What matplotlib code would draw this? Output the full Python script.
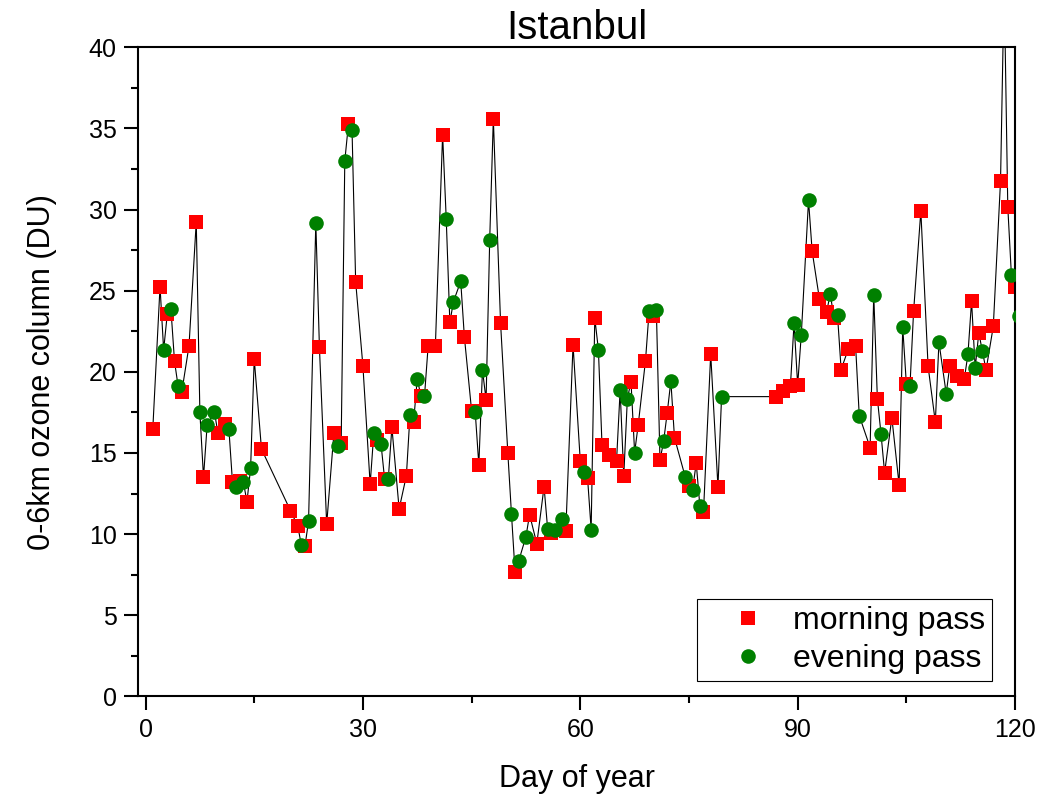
import matplotlib
matplotlib.use("Agg")
import matplotlib.pyplot as plt
from matplotlib.ticker import MultipleLocator

plt.rcParams["font.family"] = ["Liberation Sans", "DejaVu Sans"]

# morning pass (red squares)
morning_days = [1, 2, 3, 4, 5, 6, 7, 8, 10, 11, 12, 13, 14, 15, 16,
                20, 21, 22, 24, 25, 26, 27, 28, 29, 30, 31, 32, 33, 34, 35,
                36, 37, 38, 39, 40, 41, 42, 44, 45, 46, 47, 48, 49, 50, 51,
                53, 54, 55, 56, 58, 59, 60, 61, 62, 63, 64, 65, 66, 67, 68,
                69, 70, 71, 72, 73, 75, 76, 77, 78, 79,
                87, 88, 89, 90, 92, 93, 94, 95, 96, 97, 98, 100, 101, 102,
                103, 104, 105, 106, 107, 108, 109, 111, 112, 113, 114, 115,
                116, 117, 118, 119, 120, 121]
morning_vals = [16.46, 25.25, 23.55, 20.65, 18.75, 21.6, 29.25, 13.5, 16.2, 16.8,
                13.2, 13.3, 12.0, 20.8, 15.24,
                11.45, 10.5, 9.25, 21.5, 10.6, 16.25, 15.6, 35.25, 25.55, 20.36,
                13.07, 15.8, 13.37, 16.58, 11.55,
                13.6, 16.93, 18.5, 21.57, 21.57, 34.62, 23.05, 22.17, 17.6, 14.26,
                18.28, 35.6, 22.99, 15.0, 7.66,
                11.2, 9.41, 12.92, 10.05, 10.19, 21.67, 14.5, 13.48, 23.32, 15.47,
                14.85, 14.48, 13.58, 19.4, 16.75,
                20.69, 23.44, 14.55, 17.48, 15.94, 12.94, 14.38, 11.34, 21.1, 12.9,
                18.47, 18.8, 19.13, 19.2, 27.43, 24.5, 23.69, 23.32, 20.14, 21.42,
                21.57, 15.33, 18.35, 13.78,
                17.17, 13.04, 19.27, 23.73, 29.91, 20.34, 16.9, 20.37, 19.74, 19.56,
                24.35, 22.4,
                20.11, 22.8, 31.78, 30.14, 25.2, 21.45]

# evening pass (green circles)
evening_days = [2.5, 3.5, 4.5, 7.5, 8.5, 9.5, 11.5, 12.5, 13.5, 14.5,
                21.5, 22.5, 23.5, 26.5, 27.5, 28.5, 31.5, 32.5, 33.5, 36.5,
                37.5, 38.5, 41.5, 42.5, 43.5, 45.5, 46.5, 47.5, 50.5, 51.5,
                52.5, 55.5, 56.5, 57.5, 60.5, 61.5, 62.5, 65.5, 66.5, 67.5,
                69.5, 70.5, 71.5, 72.5, 74.5, 75.5, 76.5, 79.5,
                89.5, 90.5, 91.5, 94.5, 95.5, 98.5, 100.5, 101.5, 104.5, 105.5,
                109.5, 110.5, 113.5, 114.5, 115.5, 118.5, 119.5, 120.5]
evening_vals = [21.35, 23.9, 19.1, 17.5, 16.7, 17.55, 16.5, 12.9, 13.2, 14.05,
                9.35, 10.8, 29.2, 15.45, 33.0, 34.9, 16.2, 15.55, 13.37, 17.36,
                19.58, 18.5, 29.42, 24.33, 25.58, 17.52, 20.1, 28.15, 11.26, 8.34,
                9.84, 10.3, 10.27, 10.9, 13.8, 10.28, 21.37, 18.86, 18.35, 15.02,
                23.75, 23.81, 15.72, 19.43, 13.5, 12.74, 11.75, 18.47,
                23.0, 22.27, 30.57, 24.82, 23.48, 17.3, 24.76, 16.19, 22.74, 19.13,
                21.82, 18.66, 21.08, 20.24, 21.26, 44.0, 25.95, 23.46]

# one line through both passes in time order
all_points = sorted(zip(morning_days + evening_days, morning_vals + evening_vals))
line_days = [p[0] for p in all_points]
line_vals = [p[1] for p in all_points]

fig = plt.figure(figsize=(10.5, 7.97), dpi=100)
ax = fig.add_axes([0.1317, 0.1263, 0.8350, 0.8144])

ax.plot(line_days, line_vals, color="black", linewidth=0.8, zorder=1)
ax.plot(morning_days, morning_vals, linestyle="none", marker="s", markersize=9.4,
        markeredgewidth=0, color="#ff0000", label="morning pass", zorder=2)
ax.plot(evening_days, evening_vals, linestyle="none", marker="o", markersize=10.5,
        markeredgewidth=0, color="#008000", label="evening pass", zorder=3)

ax.set_xlim(-1, 120)
ax.set_ylim(0, 40)
ax.xaxis.set_major_locator(MultipleLocator(30))
ax.xaxis.set_minor_locator(MultipleLocator(15))
ax.yaxis.set_major_locator(MultipleLocator(5))
ax.yaxis.set_minor_locator(MultipleLocator(2.5))
ax.tick_params(which="major", direction="out", length=10, width=1.5,
               labelsize=18, pad=5.5)
ax.tick_params(which="minor", direction="out", length=5, width=1.5)
for s in ax.spines.values():
    s.set_linewidth(1.5)

ax.set_xlabel("Day of year", fontsize=22, labelpad=16)
ax.set_ylabel("0-6km ozone column (DU)", fontsize=22, labelpad=23)
ax.set_title("Istanbul", fontsize=29, pad=4.3)

leg = ax.legend(loc="lower right", bbox_to_anchor=(0.9734, 0.024), borderaxespad=0,
                fontsize=23, handlelength=2.75, handletextpad=0.05, borderpad=0.2,
                labelspacing=0.27, fancybox=False, framealpha=1, numpoints=1)
leg.get_frame().set_edgecolor("black")
leg.get_frame().set_linewidth(0.8)

plt.savefig("out.png", dpi=100)
